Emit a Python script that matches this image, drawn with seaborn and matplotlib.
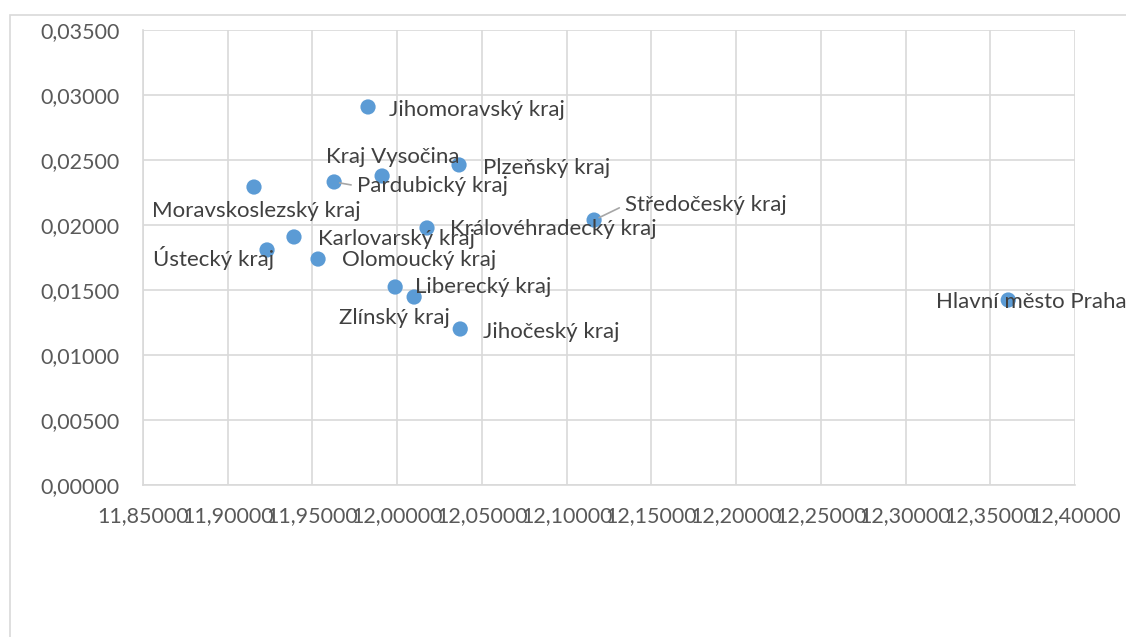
import matplotlib
matplotlib.use('Agg')
import matplotlib.pyplot as plt
import seaborn as sns
import pandas as pd
from matplotlib.ticker import FuncFormatter, MultipleLocator
from matplotlib.patches import Rectangle

regions = ['Jihomoravský kraj', 'Plzeňský kraj', 'Kraj Vysočina', 'Pardubický kraj',
           'Moravskoslezský kraj', 'Královéhradecký kraj', 'Středočeský kraj',
           'Karlovarský kraj', 'Ústecký kraj', 'Olomoucký kraj', 'Liberecký kraj',
           'Zlínský kraj', 'Jihočeský kraj', 'Hlavní město Praha']
x_vals = [11.9828, 12.0365, 11.9911, 11.9628, 11.9155, 12.0176, 12.1162,
          11.9391, 11.9232, 11.9533, 11.9988, 12.0100, 12.0372, 12.3606]
y_vals = [0.02908, 0.02462, 0.02377, 0.02331, 0.02292, 0.01977, 0.02038,
          0.01908, 0.01808, 0.01738, 0.01523, 0.01446, 0.01200, 0.01423]

# label offsets in pixels (dx, dy) from the point
offsets = {
    'Jihomoravský kraj': (21, -3), 'Plzeňský kraj': (24, -3),
    'Kraj Vysočina': (-56, 19), 'Pardubický kraj': (23, -4),
    'Moravskoslezský kraj': (-102, -24), 'Královéhradecký kraj': (23, -1),
    'Středočeský kraj': (31, 15), 'Karlovarský kraj': (24, -2),
    'Ústecký kraj': (-114, -8), 'Olomoucký kraj': (24, -1),
    'Liberecký kraj': (20, 0), 'Zlínský kraj': (-75, -21),
    'Jihočeský kraj': (23, -3), 'Hlavní město Praha': (-72, -2),
}
leaders = ['Pardubický kraj', 'Středočeský kraj']

df = pd.DataFrame({'region': regions, 'x': x_vals, 'y': y_vals})

sns.set_style('white')
plt.rcParams['font.family'] = ['Lato', 'DejaVu Sans']

fig = plt.figure(figsize=(11.26, 6.37), dpi=100)
fig.patches.append(Rectangle((10 / 1126, -0.1), 1.2, (637 - 15) / 637 + 0.1,
                             transform=fig.transFigure, fill=False,
                             edgecolor='#d9d9d9', linewidth=1.2))
ax = fig.add_axes([143 / 1126, 1 - 485 / 637, (1075 - 143) / 1126, (485 - 30) / 637])

sns.scatterplot(data=df, x='x', y='y', ax=ax, s=120, color='#5b9bd5',
                edgecolor='none', zorder=3)

ax.set_xlim(11.85, 12.40)
ax.set_ylim(0, 0.035)
ax.xaxis.set_major_locator(MultipleLocator(0.05))
ax.yaxis.set_major_locator(MultipleLocator(0.005))
fmt = FuncFormatter(lambda v, p: f'{v:.5f}'.replace('.', ','))
ax.xaxis.set_major_formatter(fmt)
ax.yaxis.set_major_formatter(fmt)
ax.grid(True, color='#d9d9d9', linewidth=1.2)
ax.set_axisbelow(True)
for side in ['top', 'right']:
    ax.spines[side].set_visible(False)
for side in ['left', 'bottom']:
    ax.spines[side].set_color('#d9d9d9')
    ax.spines[side].set_linewidth(1.2)
ax.tick_params(length=0, labelsize=15.5, colors='#595959')
ax.tick_params(axis='x', pad=15)
ax.tick_params(axis='y', pad=17)
ax.set_xlabel('')
ax.set_ylabel('')

for r, xv, yv in zip(regions, x_vals, y_vals):
    dx, dy = offsets[r]
    kw = {}
    if r in leaders:
        kw['arrowprops'] = dict(arrowstyle='-', color='#a6a6a6', lw=1.2,
                                shrinkA=2, shrinkB=4, relpos=(0, 0.5))
    ax.annotate(r, (xv, yv), xytext=(dx, dy), textcoords='offset pixels',
                ha='left', va='center', fontsize=16, color='#404040',
                annotation_clip=False, **kw)

fig.savefig('out.png', dpi=100)
